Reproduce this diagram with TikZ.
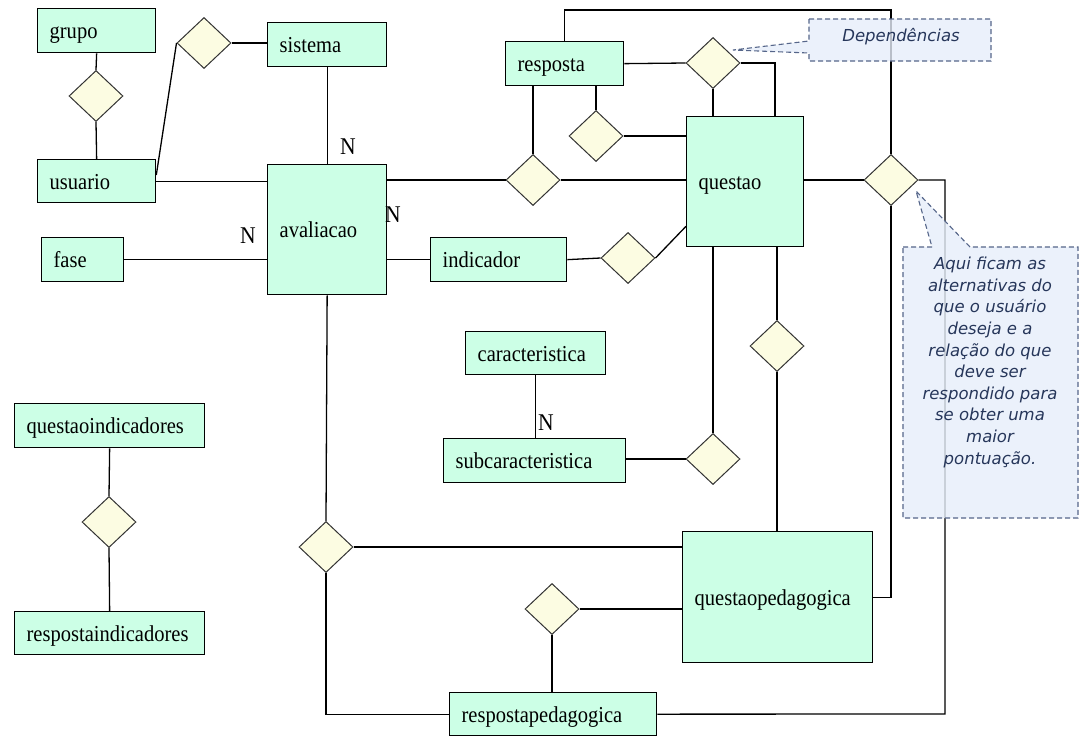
\documentclass[tikz,border=0pt]{standalone}
\usepackage{fontspec}
\setmainfont{Liberation Serif}
\newfontfamily\entfont{Liberation Serif}[FakeStretch=0.9]
\newfontfamily\notefont{DejaVu Sans}
\usetikzlibrary{shapes.geometric,calc}
\definecolor{entfill}{HTML}{CCFFE6}
\definecolor{relfill}{HTML}{FCFCE2}
\definecolor{notefill}{HTML}{E6EEFA}
\definecolor{notedraw}{HTML}{56668A}
\definecolor{notetext}{HTML}{26365A}
\tikzset{
 ent/.style={draw=black, line width=1.3pt, fill=entfill, font=\entfont\fontsize{22.8}{26}\selectfont,
   text height=18pt, text depth=2pt, inner xsep=12pt, inner ysep=0pt, align=left, anchor=north west},
 rel/.style={diamond, draw=black!80, line width=1pt, fill=relfill, minimum width=54pt, minimum height=51pt, inner sep=0pt},
 conn/.style={line width=1.3pt, black},
 card/.style={font=\entfont\fontsize{24}{26}\selectfont, inner sep=0pt},
 callout/.style={draw=notedraw, line width=1.1pt, dash pattern=on 5pt off 3pt, fill=notefill, fill opacity=0.8},
 notetxt/.style={font=\notefont\itshape\fontsize{16.5}{21.6}\selectfont, text=notetext, align=center, inner sep=0pt},
}
\begin{document}
\begin{tikzpicture}[x=1pt, y=-1pt]
\fill[white] (0,0) rectangle (1083,736);
\useasboundingbox (0,0) rectangle (1083,736);

% entities
\node[ent, text width=94pt, minimum width=118pt, minimum height=44pt] (grupo) at (37,8) {grupo};
\node[ent, text width=95pt, minimum width=119pt, minimum height=44pt] (sistema) at (267,22) {sistema};
\node[ent, text width=94pt, minimum width=118pt, minimum height=43pt] (usuario) at (37,159) {usuario};
\node[ent, text width=58pt, minimum width=82pt, minimum height=44pt] (fase) at (41,237) {fase};
\node[ent, text width=95pt, minimum width=119pt, minimum height=130pt] (avaliacao) at (267,164) {avaliacao};
\node[ent, text width=94pt, minimum width=118pt, minimum height=44pt] (resposta) at (505,41) {resposta};
\node[ent, text width=93pt, minimum width=117pt, minimum height=130pt] (questao) at (686,116) {questao};
\node[ent, text width=112pt, minimum width=136pt, minimum height=44pt] (indicador) at (430,237) {indicador};
\node[ent, text width=116pt, minimum width=140pt, minimum height=43pt] (caracteristica) at (465,331) {caracteristica};
\node[ent, text width=158pt, minimum width=182pt, minimum height=44pt] (subcaracteristica) at (443,438) {subcaracteristica};
\node[ent, text width=166pt, minimum width=190pt, minimum height=44pt] (questaoindicadores) at (14,403) {questaoindicadores};
\node[ent, text width=166pt, minimum width=190pt, minimum height=43pt] (respostaindicadores) at (14,611) {respostaindicadores};
\node[ent, text width=166pt, minimum width=190pt, minimum height=131pt] (questaopedagogica) at (682,531) {questaopedagogica};
\node[ent, text width=183pt, minimum width=207pt, minimum height=43pt] (respostapedagogica) at (449,692) {respostapedagogica};

% relationships
\node[rel] (rsu) at (204,43) {};
\node[rel] (rgu) at (96,96) {};
\node[rel] (rdep) at (713,63) {};
\node[rel] (rrq) at (596,136) {};
\node[rel] (raq) at (533,180) {};
\node[rel] (riq) at (628,258) {};
\node[rel] (ralt) at (891,180) {};
\node[rel] (rsub) at (713,459) {};
\node[rel] (rqp) at (777,346) {};
\node[rel] (rqi) at (109,522) {};
\node[rel] (rav) at (326,547) {};
\node[rel] (rrp) at (552,609) {};

\coordinate (ctop) at (891,10);
\coordinate (cr) at (945,714);

% connectors
\draw[conn] (grupo.south) -- (rgu.north);
\draw[conn] (rgu.south) -- (usuario.north);
\draw[conn] ($(usuario.north east)+(0,16)$) -- (rsu.west);
\draw[conn] (rsu.east) -- (rsu.east -| sistema.west);
\draw[conn] (sistema.south) -- (sistema.south |- avaliacao.north);
\draw[conn] (usuario.east) -- (usuario.east -| avaliacao.west);
\draw[conn] (fase.east) -- (fase.east -| avaliacao.west);
\draw[conn] (raq.west -| avaliacao.east) -- (raq.west);
\draw[conn] (raq.east) -- (raq.east -| questao.west);
\draw[conn] (raq.north |- resposta.south) -- (raq.north);
\draw[conn] (rrq.north |- resposta.south) -- (rrq.north);
\draw[conn] (rrq.east) -- (rrq.east -| questao.west);
\draw[conn] (resposta.east) -- (rdep.west);
\draw[conn] (rdep.south) -- (rdep.south |- questao.north);
\draw[conn] (rdep.east) -| ($(questao.north west)+(89,0)$);
\draw[conn] (resposta.north) |- (ctop) -- (ralt.north);
\draw[conn] (avaliacao.east |- indicador.west) -- (indicador.west);
\draw[conn] (indicador.east) -- (riq.west);
\draw[conn] (riq.east) -- ($(questao.south west)+(0,-21)$);
\draw[conn] (ralt.west -| questao.east) -- (ralt.west);
\draw[conn] (ralt.east) -| (cr) -- (respostapedagogica.east);
\draw[conn] (ralt.south) |- (questaopedagogica.east);
\draw[conn] (rqp.north |- questao.south) -- (rqp.north);
\draw[conn] (rqp.south) -- (rqp.south |- questaopedagogica.north);
\draw[conn] (rsub.north |- questao.south) -- (rsub.north);
\draw[conn] (rsub.west -| subcaracteristica.east) -- (rsub.west);
\draw[conn] (caracteristica.south) -- (caracteristica.south |- subcaracteristica.north);
\draw[conn] (questaoindicadores.south) -- (rqi.north);
\draw[conn] (rqi.south) -- (respostaindicadores.north);
\draw[conn] (avaliacao.south) -- (rav.north);
\draw[conn] (rav.east) -- (rav.east -| questaopedagogica.west);
\draw[conn] (rav.south) |- (respostapedagogica.west);
\draw[conn] (rrp.east) -- (rrp.east -| questaopedagogica.west);
\draw[conn] (rrp.south) -- (rrp.south |- respostapedagogica.north);

% cardinalities
\node[card] (n1) at (348,147) {N};
\node[card] (n2) at (393,215) {N};
\node[card] (n3) at (248,236) {N};
\node[card] (n4) at (546,423) {N};

% callouts
\path[callout] (809,19) -- (991,19) -- (991,61) -- (809,61) -- (809,53) -- (733,50) -- (809,41) -- cycle;
\node[notetxt] (dep) at (901,37) {Dependências};
\path[callout] (903,247) -- (932,247) -- (916,191) -- (970,247) -- (1078,247) -- (1078,518) -- (903,518) -- cycle;
\node[notetxt, anchor=north] (note) at (990,257) {Aqui ficam as\\alternativas do\\que o usuário\\deseja e a\\relação do que\\deve ser\\respondido para\\se obter uma\\maior\\pontuação.};
\end{tikzpicture}
\end{document}
